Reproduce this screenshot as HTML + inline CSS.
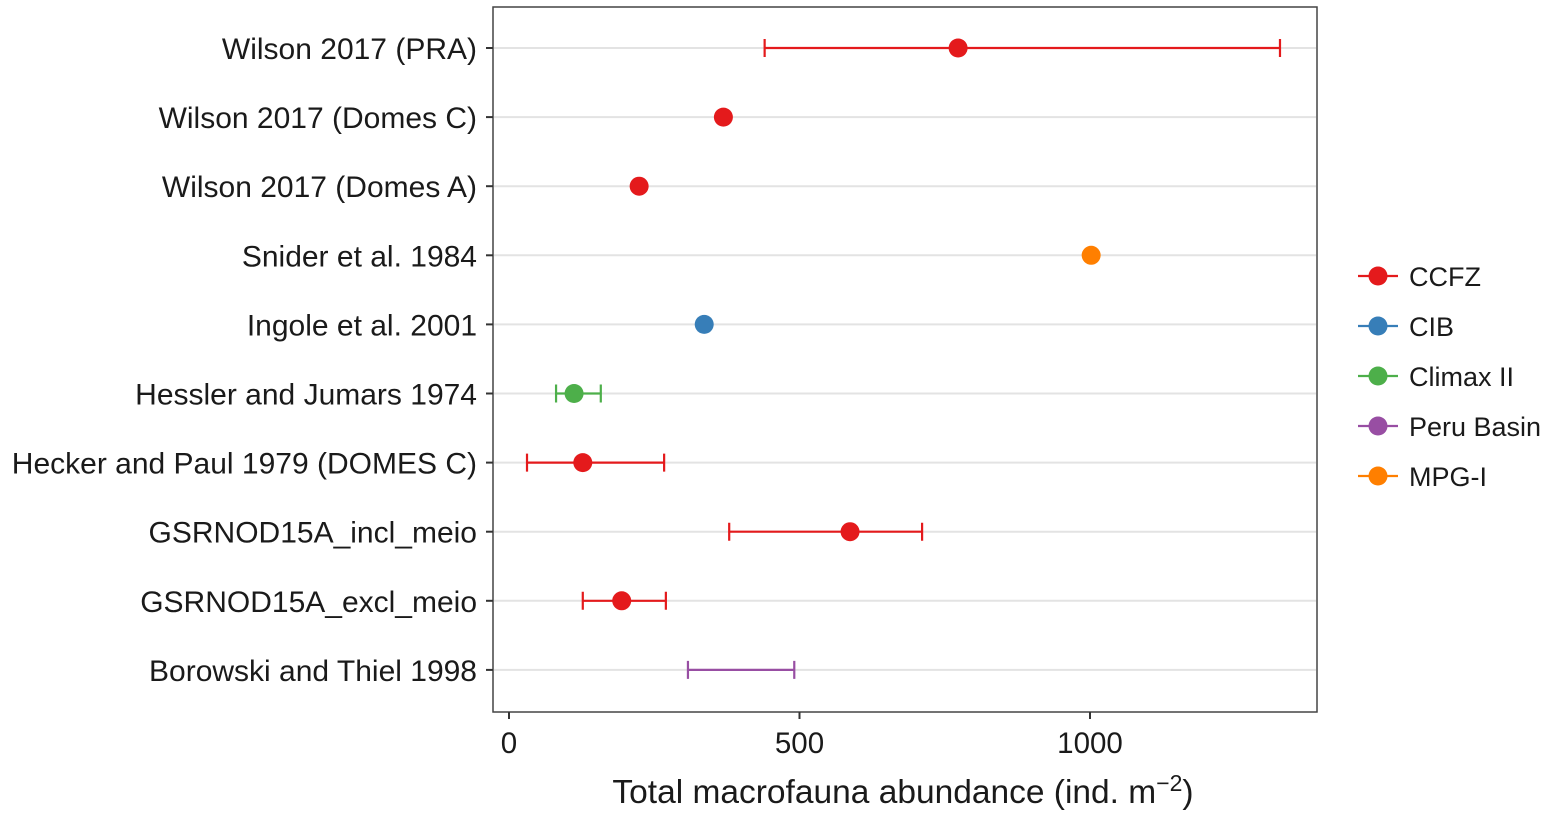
<!DOCTYPE html>
<html><head><meta charset="utf-8"><style>
body{margin:0;background:#fff;}
svg text{font-family:"Liberation Sans",Arial,sans-serif;fill:#1a1a1a;}
</style></head><body>
<svg id="chart" width="1547" height="815" xmlns="http://www.w3.org/2000/svg">
<rect x="493" y="7" width="824" height="705" fill="#fff" stroke="#444" stroke-width="1.5"/>
<g id="grid"></g><g id="marks"></g><g id="axes"></g><g id="legend"></g>
<text x="903" y="803" font-size="33.5" text-anchor="middle">Total macrofauna abundance (ind. m<tspan dy="-12" font-size="23">−2</tspan><tspan dy="12">)</tspan></text>
</svg>
<script>
const studies=["Wilson 2017 (PRA)","Wilson 2017 (Domes C)","Wilson 2017 (Domes A)","Snider et al. 1984","Ingole et al. 2001","Hessler and Jumars 1974","Hecker and Paul 1979 (DOMES C)","GSRNOD15A_incl_meio","GSRNOD15A_excl_meio","Borowski and Thiel 1998"];
const values=[773,369,224,1002,336,112,127,587,194,null];
const lows=[440,null,null,null,null,81,31,379,127,308];
const highs=[1327,null,null,null,null,158,267,711,270,491];
const groups=["CCFZ","CCFZ","CCFZ","MPG-I","CIB","Climax II","CCFZ","CCFZ","CCFZ","Peru Basin"];
const legendNames=["CCFZ","CIB","Climax II","Peru Basin","MPG-I"];
const legendColors=["#e41a1c","#377eb8","#4daf4a","#984ea3","#ff7f00"];
const xTicks=[0,500,1000];
const NS="http://www.w3.org/2000/svg";
const xs=v=>509+v*0.581;
const ys=i=>48+i*69.1;
const col=g=>legendColors[legendNames.indexOf(g)];
function mk(parent,tag,attrs){const e=document.createElementNS(NS,tag);for(const k in attrs)e.setAttribute(k,attrs[k]);document.getElementById(parent).appendChild(e);return e;}
studies.forEach((s,i)=>{
  const y=ys(i);
  const g=mk("grid","line",{x1:494,x2:1316,y1:y,y2:y,stroke:"#e3e3e3","stroke-width":2});
  
  
  const tk=mk("axes","line",{x1:486,x2:493,y1:y,y2:y,stroke:"#333","stroke-width":2});
  
  
  const t=mk("axes","text",{x:477,y:y+11,"font-size":30,"text-anchor":"end"});
  t.textContent=s;
  
  
  const c=col(groups[i]);
  if(lows[i]!=null){
    const eb=mk("marks","path",{d:`M${xs(lows[i])},${y-9}V${y+9}M${xs(lows[i])},${y}H${xs(highs[i])}M${xs(highs[i])},${y-9}V${y+9}`,stroke:c,"stroke-width":2.2,fill:"none"});
    
    
  }
  if(values[i]!=null){
    const p=mk("marks","circle",{cx:xs(values[i]),cy:y,r:9.5,fill:c});
    
    
  }
});
xTicks.forEach(v=>{
  const tk=mk("axes","line",{x1:xs(v),x2:xs(v),y1:712,y2:719,stroke:"#333","stroke-width":2});
  
  
  const t=mk("axes","text",{x:xs(v),y:753,"font-size":29.5,"text-anchor":"middle"});
  t.textContent=v;
  
  
});
legendNames.forEach((n,i)=>{
  const y=276+i*50;
  const l=mk("legend","line",{x1:1358,x2:1398,y1:y,y2:y,stroke:legendColors[i],"stroke-width":2.2});
  
  
  const c=mk("legend","circle",{cx:1378,cy:y,r:9.5,fill:legendColors[i]});
  
  
  const t=mk("legend","text",{x:1409,y:y+10,"font-size":27});
  t.textContent=n;
  
  
});
</script>
</body></html>
